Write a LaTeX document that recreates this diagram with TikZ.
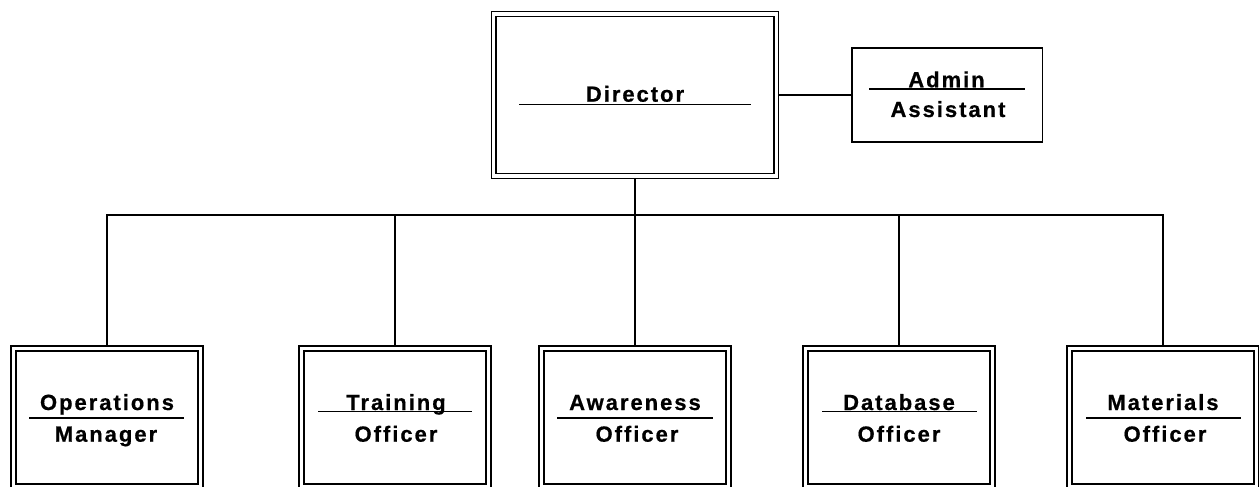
\documentclass[tikz,border=0pt]{standalone}
\usepackage{fontspec}
\usetikzlibrary{backgrounds}
\setmainfont{Liberation Sans}[BoldFont={Liberation Sans Bold}]
\newfontfamily\orgfont{Liberation Sans}[BoldFont={Liberation Sans Bold}, LetterSpace=9, BoldFeatures={FakeBold=0.6}]
\tikzset{
  post/.style={draw=black, line width=1.5pt, double=white, double distance=3.4pt,
               minimum width=187pt, minimum height=138pt, inner sep=0pt},
  bigpost/.style={post, minimum width=282.5pt, minimum height=161.8pt},
  assist/.style={draw=black, line width=1.7pt, fill=white, inner sep=0pt,
                 minimum width=190.3pt, minimum height=94.6pt},
  title/.style={anchor=base, inner sep=0pt, font=\fontsize{22}{26}\orgfont\bfseries},
  rule/.style={line width=1.5pt},
  link/.style={line width=1.8pt}
}
\begin{document}
\begin{tikzpicture}[x=1pt, y=-1pt]
\useasboundingbox (0,0) rectangle (1259,487);

% boxes
\node[bigpost] (dir)   at (635,95)      {};
\node[assist]  (admin) at (947.2,95)    {};
\node[post]    (ops)   at (107,417.5)   {};
\node[post]    (trn)   at (395,417.5)   {};
\node[post]    (awr)   at (635,417.5)   {};
\node[post]    (dbo)   at (899,417.5)   {};
\node[post]    (mat)   at (1163,417.5)  {};

% titles and their dividing rules
\node[title] (dirA) at (635,101.7) {Director};
\draw[rule] (519,104.3) -- (751,104.3);

\node[title] (admA) at (946.5,87.3) {Admin};
\draw[rule] (869,89) -- (1025,89);
\node[title] (admB) at (948,117) {Assistant};

\node[title] (opsA) at (107,410) {Operations};
\draw[rule] (29,418) -- (184,418);
\node[title] (opsB) at (106,441.7) {Manager};

\node[title] (trnA) at (396,410) {Training};
\draw[rule] (318,411.7) -- (472,411.7);
\node[title] (trnB) at (396,441.7) {Officer};

\node[title] (awrA) at (635,410) {Awareness};
\draw[rule] (557,418) -- (713,418);
\node[title] (awrB) at (637,441.7) {Officer};

\node[title] (dboA) at (899,410) {Database};
\draw[rule] (822,411.7) -- (977,411.7);
\node[title] (dboB) at (899,441.7) {Officer};

\node[title] (matA) at (1163,410) {Materials};
\draw[rule] (1086,418) -- (1241,418);
\node[title] (matB) at (1165,441.7) {Officer};

% reporting lines
\begin{scope}[on background layer]
  \coordinate (bus) at (635,215);
  \draw[link] (dir.east) -- (admin.west);
  \draw[link] (dir.south) -- (bus);
  \draw[link] (bus) -| (ops.north);
  \draw[link] (bus) -| (trn.north);
  \draw[link] (bus) -- (awr.north);
  \draw[link] (bus) -| (dbo.north);
  \draw[link] (bus) -| (mat.north);
\end{scope}
\end{tikzpicture}
\end{document}
